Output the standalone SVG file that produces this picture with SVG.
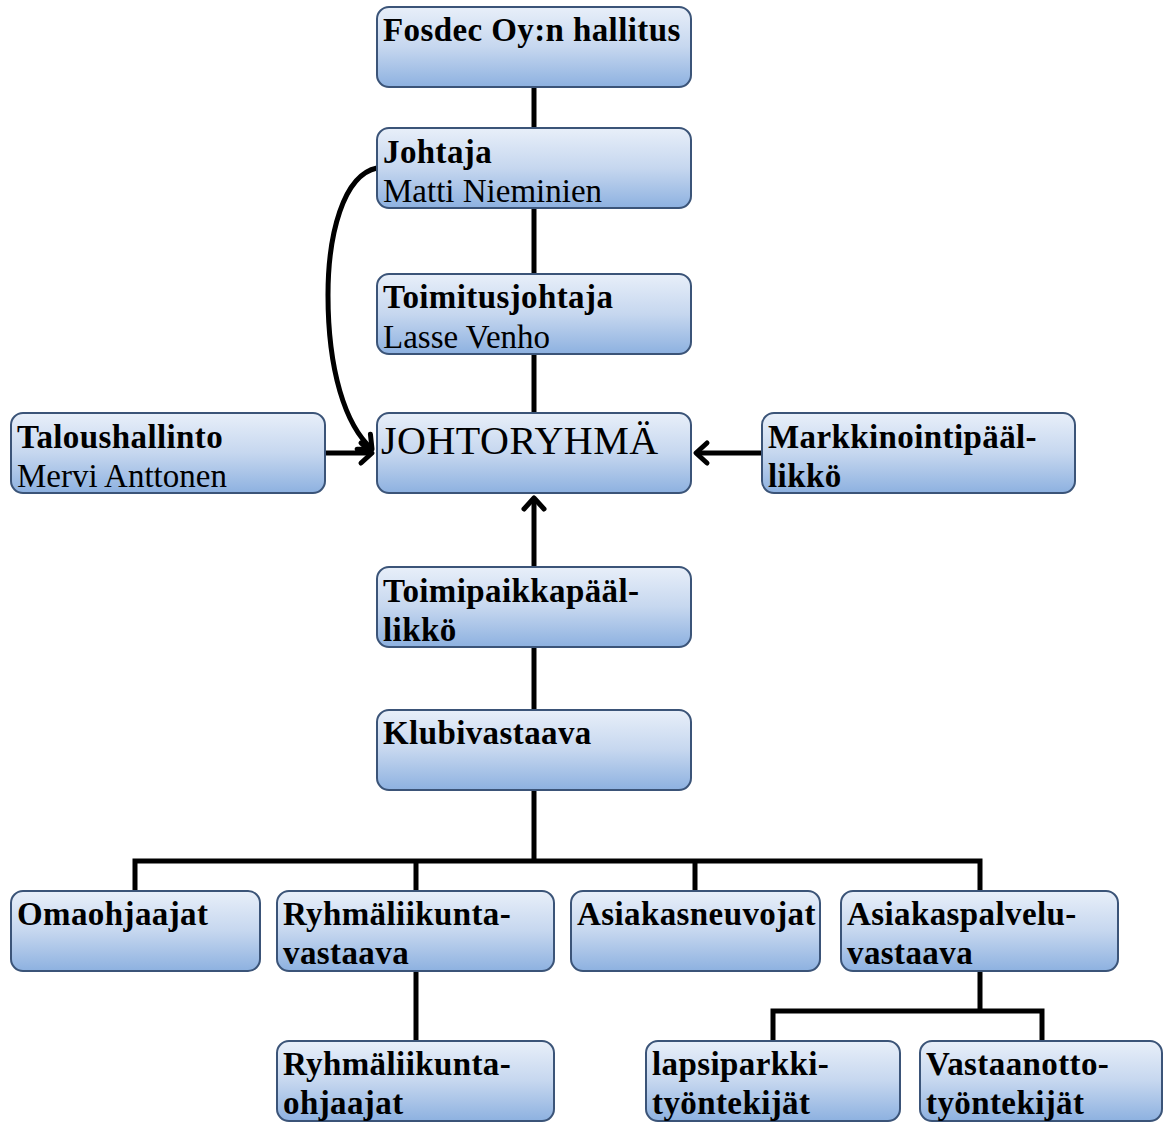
<svg xmlns="http://www.w3.org/2000/svg" width="1168" height="1122" viewBox="0 0 1168 1122">
<defs>
<linearGradient id="g" x1="0" y1="0" x2="0" y2="1">
<stop offset="0" stop-color="#e8eff9"/>
<stop offset="0.5" stop-color="#c6d7ef"/>
<stop offset="1" stop-color="#8db1e0"/>
</linearGradient>
<marker id="arr" viewBox="0 0 16 24" refX="13" refY="12" markerWidth="16" markerHeight="24" markerUnits="userSpaceOnUse" orient="auto" overflow="visible">
<path d="M2,2 L13,12 L2,22" fill="none" stroke="#000" stroke-width="5" stroke-linecap="round" stroke-linejoin="round"/>
</marker>
</defs>
<style>
.n{fill:url(#g);stroke:#3b5478;stroke-width:2}
.b{font-family:"Liberation Serif","Times New Roman",serif;font-weight:bold;font-size:33px;letter-spacing:0.4px;fill:#000}
.r{font-family:"Liberation Serif","Times New Roman",serif;font-size:33px;fill:#000}
.big{font-size:40px;letter-spacing:0.5px}
.c{fill:none;stroke:#000;stroke-width:5}
</style>
<rect width="1168" height="1122" fill="#fff"/>
<g id="connectors">
<path class="c" d="M534,87 V128 M534,208 V274 M534,354 V413"/>
<path class="c" d="M377,168 C343,175 328,235 328,295 C328,370 345,425 372,449" marker-end="url(#arr)"/>
<path class="c" d="M325,453 H372" marker-end="url(#arr)"/>
<path class="c" d="M762,453 H696" marker-end="url(#arr)"/>
<path class="c" d="M534,567 V498" marker-end="url(#arr)"/>
<path class="c" d="M534,647 V710"/>
<path class="c" d="M534,790 V861 M135,891 V861 H980 V891 M416,861 V891 M695,861 V891"/>
<path class="c" d="M416,971 V1041"/>
<path class="c" d="M980,971 V1011 M773,1041 V1011 H1042 V1041"/>
</g>
<g id="n-fosdec"><rect class="n" x="377" y="7" width="314" height="80" rx="12"/><text class="b" x="383" y="41">Fosdec Oy:n hallitus</text></g>
<g id="n-johtaja"><rect class="n" x="377" y="128" width="314" height="80" rx="12"/><text class="b" x="383" y="163">Johtaja</text><text class="r" x="383" y="202">Matti Nieminien</text></g>
<g id="n-toimitusjohtaja"><rect class="n" x="377" y="274" width="314" height="80" rx="12"/><text class="b" x="383" y="308">Toimitusjohtaja</text><text class="r" x="383" y="348">Lasse Venho</text></g>
<g id="n-johtoryhma"><rect class="n" x="377" y="413" width="314" height="80" rx="12"/><text class="r big" x="381" y="454">JOHTORYHMÄ</text></g>
<g id="n-talous"><rect class="n" x="11" y="413" width="314" height="80" rx="12"/><text class="b" x="17" y="448">Taloushallinto</text><text class="r" x="17" y="487">Mervi Anttonen</text></g>
<g id="n-markkinointi"><rect class="n" x="762" y="413" width="313" height="80" rx="12"/><text class="b" x="768" y="448">Markkinointipääl-</text><text class="b" x="768" y="487">likkö</text></g>
<g id="n-toimipaikka"><rect class="n" x="377" y="567" width="314" height="80" rx="12"/><text class="b" x="383" y="602">Toimipaikkapääl-</text><text class="b" x="383" y="641">likkö</text></g>
<g id="n-klubi"><rect class="n" x="377" y="710" width="314" height="80" rx="12"/><text class="b" x="383" y="744">Klubivastaava</text></g>
<g id="n-omaohjaajat"><rect class="n" x="11" y="891" width="249" height="80" rx="12"/><text class="b" x="17" y="925">Omaohjaajat</text></g>
<g id="n-ryhmavastaava"><rect class="n" x="277" y="891" width="277" height="80" rx="12"/><text class="b" x="283" y="925">Ryhmäliikunta-</text><text class="b" x="283" y="964">vastaava</text></g>
<g id="n-asiakasneuvojat"><rect class="n" x="571" y="891" width="249" height="80" rx="12"/><text class="b" x="577" y="925">Asiakasneuvojat</text></g>
<g id="n-asiakaspalvelu"><rect class="n" x="841" y="891" width="277" height="80" rx="12"/><text class="b" x="847" y="925">Asiakaspalvelu-</text><text class="b" x="847" y="964">vastaava</text></g>
<g id="n-ryhmaohjaajat"><rect class="n" x="277" y="1041" width="277" height="80" rx="12"/><text class="b" x="283" y="1075">Ryhmäliikunta-</text><text class="b" x="283" y="1114">ohjaajat</text></g>
<g id="n-lapsiparkki"><rect class="n" x="646" y="1041" width="254" height="80" rx="12"/><text class="b" x="652" y="1075">lapsiparkki-</text><text class="b" x="652" y="1114">työntekijät</text></g>
<g id="n-vastaanotto"><rect class="n" x="920" y="1041" width="242" height="80" rx="12"/><text class="b" x="926" y="1075">Vastaanotto-</text><text class="b" x="926" y="1114">työntekijät</text></g>
</svg>
